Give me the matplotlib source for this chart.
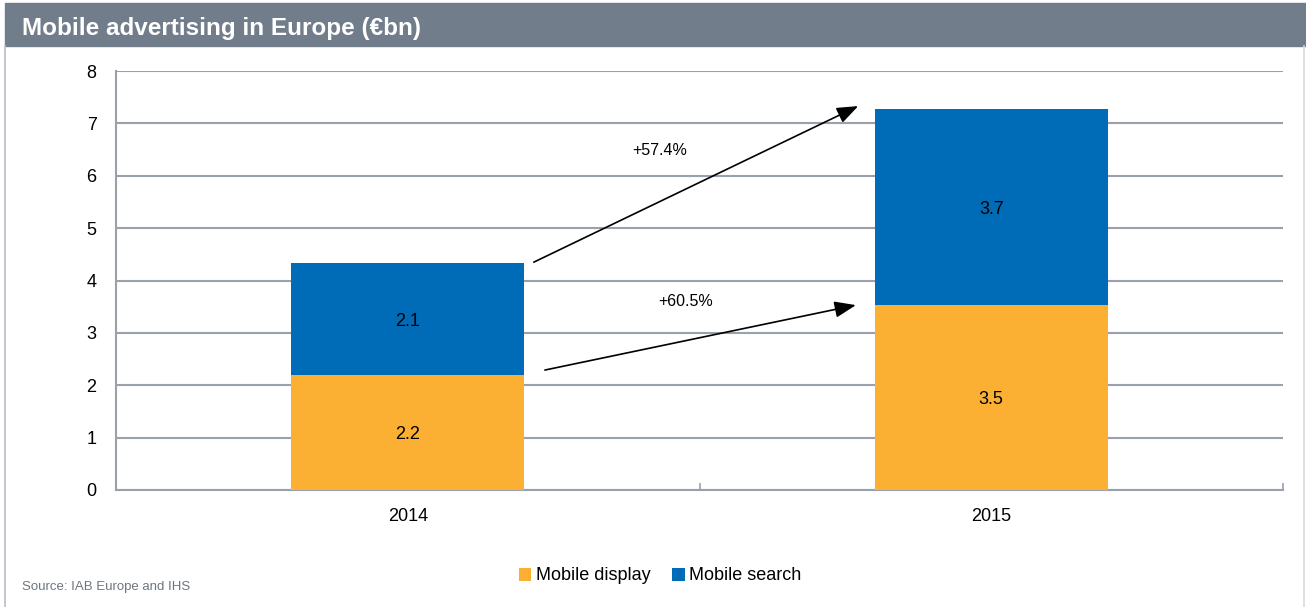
import numpy as np
import matplotlib.pyplot as plt
from matplotlib.patches import Rectangle
from matplotlib.lines import Line2D

plt.rcParams['font.family'] = ['Liberation Sans', 'DejaVu Sans']

years = ['2014', '2015']
display = [2.2, 3.53]
search = [2.13, 3.75]
display_labels = ['2.2', '3.5']
search_labels = ['2.1', '3.7']
growth_labels = ['+57.4%', '+60.5%']

c_display = '#FBB034'
c_search = '#006BB6'
c_grid = '#98A1AC'

fig = plt.figure(figsize=(13.06, 6.07), dpi=100)

# header bar and frame
fig.patches.append(Rectangle((5 / 1306, 1 - 46 / 607), 1 - 5 / 1306, 43 / 607,
                             transform=fig.transFigure, color='#717D8B', zorder=0))
fig.lines.append(Line2D([5 / 1306, 5 / 1306], [0, 1 - 46 / 607], transform=fig.transFigure,
                        color='#B8BEC6', lw=1.2))
fig.lines.append(Line2D([1304 / 1306, 1304 / 1306], [0, 1 - 46 / 607], transform=fig.transFigure,
                        color='#D5D9DE', lw=1.2))
fig.text(22 / 1306, 1 - 28 / 607, 'Mobile advertising in Europe (€bn)', color='white',
         fontsize=17.5, fontweight='bold', va='center', ha='left')

ax = fig.add_axes([116 / 1306, 1 - 490 / 607, (1283 - 116) / 1306, (490 - 71) / 607])
x = np.arange(len(years))
w = 0.4
ax.bar(x, display, w, color=c_display, label='Mobile display', zorder=3)
ax.bar(x, search, w, bottom=display, color=c_search, label='Mobile search', zorder=3)

for i in range(len(years)):
    ax.text(x[i], display[i] / 2 - 0.04, display_labels[i], ha='center', va='center', fontsize=13, zorder=4)
    ax.text(x[i], display[i] + search[i] / 2 - 0.04, search_labels[i], ha='center', va='center',
            fontsize=13, zorder=4)

totals = [d + s for d, s in zip(display, search)]
# growth arrows
arrow = dict(arrowstyle='-|>,head_length=1.3,head_width=0.5', color='black', lw=1.2,
             shrinkA=0, shrinkB=0)
ax.annotate('', xy=(0.772, totals[1] + 0.05), xytext=(0.216, totals[0] + 0.02), arrowprops=arrow, zorder=5)
ax.annotate('', xy=(0.768, display[1]), xytext=(0.235, display[0] + 0.09), arrowprops=arrow, zorder=5)
ax.text(0.432, 6.49, growth_labels[0], ha='center', va='center', fontsize=11.5)
ax.text(0.477, 3.59, growth_labels[1], ha='center', va='center', fontsize=11.5)

ax.set_xlim(-0.5, 1.5)
ax.set_ylim(0, 8)
ax.set_yticks(range(0, 9))
ax.set_xticks(x)
ax.set_xticklabels(years)
ax.set_xticks([-0.5, 0.5, 1.5], minor=True)
ax.tick_params(axis='x', which='major', length=0, labelsize=13, pad=13)
ax.tick_params(axis='x', which='minor', length=5, direction='in', color=c_grid, width=1.2)
ax.tick_params(axis='y', length=0, labelsize=13, pad=14)
ax.yaxis.grid(True, color=c_grid, lw=1.5, zorder=0)
ax.set_axisbelow(True)
for s in ['top', 'right']:
    ax.spines[s].set_visible(False)
for s in ['left', 'bottom']:
    ax.spines[s].set_color(c_grid)
    ax.spines[s].set_linewidth(1.5)

fig.legend(loc='center', bbox_to_anchor=(660 / 1306, 1 - 576 / 607), ncol=2, frameon=False,
           fontsize=13, handlelength=0.7, handleheight=0.7, handletextpad=0.25, columnspacing=1.2)
fig.text(22 / 1306, 1 - 587 / 607, 'Source: IAB Europe and IHS', color='#6D7680', fontsize=9.5,
         va='center', ha='left')

fig.savefig('out.png', dpi=100)
